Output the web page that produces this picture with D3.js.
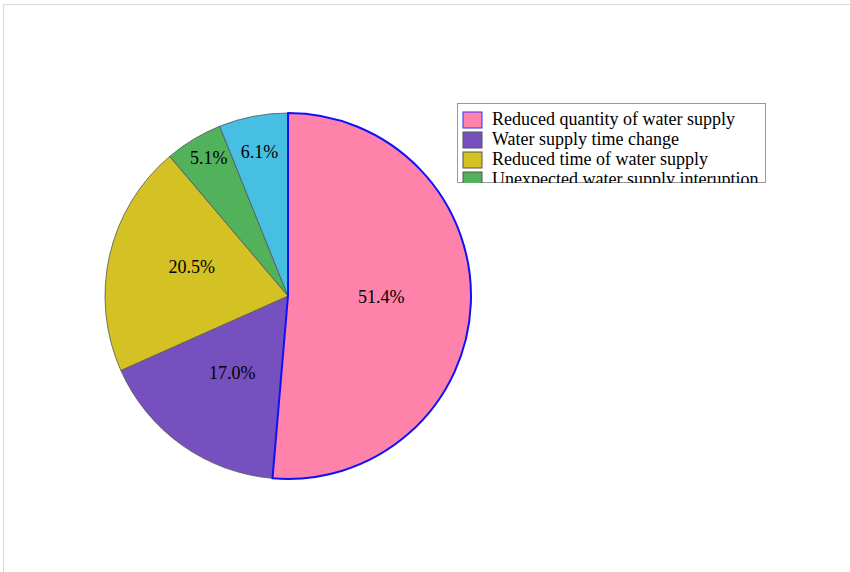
<!DOCTYPE html>
<html><head><meta charset="utf-8">
<script src="https://cdn.jsdelivr.net/npm/d3@7"></script>
<style>body{margin:0;background:#fff}svg{display:block}</style>
</head><body>
<svg id="c" width="850" height="572"></svg>
<script>
const categories = ["Reduced quantity of water supply","Water supply time change","Reduced time of water supply","Unexpected water supply interuption","Other"];
const values = [51.4, 17.0, 20.5, 5.1, 6.1];
const labels = ["51.4%","17.0%","20.5%","5.1%","6.1%"];
const colors = ["#FF82AA","#7550BE","#D4C124","#52B25B","#47BFE3"];
const legendItems = categories.slice(0, 4);
// label placement (fraction of radius, angular nudge in degrees)
const labelRadius = [0.51, 0.52, 0.55, 0.87, 0.80];
const labelNudge = [-2, 0.5, 4, 1.3, -0.3];

const svg = d3.select("#c");
svg.append("path").attr("d","M3.5,572 V4.5 H850").attr("fill","none").attr("stroke","#d8d8d8");

const cx = 288, cy = 296, r = 183;
const g = svg.append("g").attr("transform", `translate(${cx},${cy})`);
const pie = d3.pie().sort(null).value(d => d)(values);
const arc = d3.arc().innerRadius(0).outerRadius(r);
const order = [1,2,3,4,0];
order.forEach(i => {
  const d = pie[i];
  g.append("path").attr("d", arc(d)).attr("fill", colors[i])
    .attr("stroke", i === 0 ? "#1010FF" : "#555")
    .attr("stroke-width", i === 0 ? 2 : 0.8)
    .attr("stroke-linejoin","round");
});
pie.forEach((d, i) => {
  const lr = r * labelRadius[i];
  const a = (d.startAngle + d.endAngle) / 2 + labelNudge[i] * Math.PI / 180;
  g.append("text").attr("x", lr * Math.sin(a)).attr("y", -lr * Math.cos(a))
    .attr("text-anchor","middle").attr("dominant-baseline","central")
    .attr("font-family","Liberation Serif, Times New Roman, serif").attr("font-size", 18)
    .attr("fill","#000").text(labels[i]);
});

// legend
const lx = 457, ly = 103, lw = 309, lh = 80;
svg.append("clipPath").attr("id","lc").append("rect").attr("x",lx).attr("y",ly).attr("width",lw).attr("height",lh);
const lg = svg.append("g").attr("clip-path","url(#lc)");
lg.append("rect").attr("x",lx+0.5).attr("y",ly+0.5).attr("width",lw-1).attr("height",lh-1).attr("fill","#fff").attr("stroke","#999");
legendItems.forEach((c, i) => {
  const y = ly + 9 + i * 20;
  lg.append("rect").attr("x", lx + 6).attr("y", y).attr("width", 19).attr("height", 16)
    .attr("fill", colors[i]).attr("stroke", i === 0 ? "#3030FF" : "#555").attr("stroke-width", 1);
  lg.append("text").attr("x", lx + 35).attr("y", y + 12.5)
    .attr("font-family","Liberation Serif, Times New Roman, serif").attr("font-size", 18)
    .attr("fill","#000").text(c);
});
</script>
</body></html>
